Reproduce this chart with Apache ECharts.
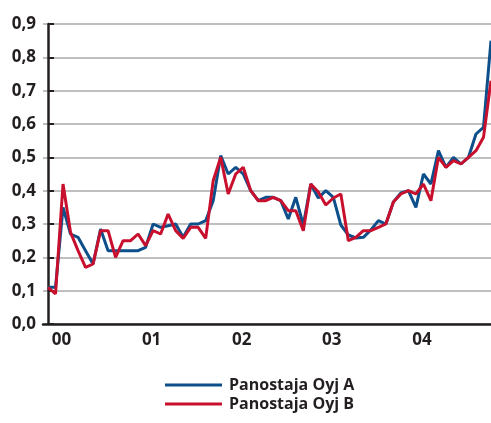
<!DOCTYPE html>
<html>
<head>
<meta charset="utf-8">
<script src="https://cdn.jsdelivr.net/npm/echarts@6/dist/echarts.min.js"></script>
<style>html,body{margin:0;padding:0;background:#fff}#c{width:491px;height:423px}</style>
</head>
<body>
<div id="c"></div>
<script>
// monthly observations, index 0..59
const seriesNames = ['Panostaja Oyj A', 'Panostaja Oyj B'];
const valuesA = [0.11,0.11,0.35,0.27,0.26,0.22,0.18,0.285,0.22,0.22,
  0.22,0.22,0.22,0.23,0.30,0.29,0.295,0.30,0.26,0.30,
  0.30,0.31,0.37,0.505,0.45,0.47,0.45,0.40,0.37,0.38,
  0.38,0.37,0.315,0.38,0.297,0.42,0.378,0.40,0.38,0.297,
  0.267,0.258,0.26,0.282,0.31,0.30,0.366,0.393,0.40,0.35,
  0.45,0.42,0.52,0.47,0.50,0.48,0.50,0.57,0.59,0.85];
const valuesB = [0.11,0.09,0.42,0.275,0.22,0.17,0.18,0.28,0.28,0.20,
  0.25,0.25,0.27,0.235,0.28,0.27,0.33,0.28,0.257,0.29,
  0.29,0.257,0.43,0.50,0.39,0.45,0.47,0.40,0.37,0.37,
  0.38,0.37,0.34,0.34,0.28,0.42,0.396,0.357,0.378,0.39,
  0.25,0.26,0.28,0.28,0.29,0.30,0.366,0.39,0.40,0.39,
  0.42,0.37,0.50,0.47,0.49,0.48,0.50,0.52,0.56,0.73];
const yearLabels = ['00','01','02','03','04'];

const labelOffset = 1.8;
const labelPos = yearLabels.map((_, k) => labelOffset + 12 * k);
const toPairs = arr => arr.map((v, i) => [i, v]);

const chart = echarts.init(document.getElementById('c'));
const font = '"Open Sans", "Noto Sans", sans-serif';
chart.setOption({
  animation: false,
  grid: { left: 43, right: 0, top: 24, bottom: 99, containLabel: false },
  xAxis: {
    type: 'value', min: -0.667, max: 59,
    axisLine: { show: true, lineStyle: { color: '#231f20', width: 2.5 } },
    axisTick: { show: false },
    splitLine: { show: false },
    axisLabel: {
      customValues: labelPos,
      formatter: v => { const k = labelPos.findIndex(p => Math.abs(p - v) < 0.01); return k >= 0 ? yearLabels[k] : ''; },
      color: '#231f20', fontSize: 17, fontWeight: 'bold', fontFamily: font, margin: 8
    }
  },
  yAxis: {
    type: 'value', min: 0, max: 0.9, interval: 0.1,
    axisLine: { show: true, lineStyle: { color: '#231f20', width: 2.5 } },
    axisTick: { show: true, inside: true, length: 6, lineStyle: { color: '#231f20', width: 2 } },
    splitLine: { show: true, lineStyle: { color: '#aaaaaa', width: 1.5 } },
    axisLabel: {
      formatter: v => v.toFixed(1).replace('.', ','),
      color: '#231f20', fontSize: 17, fontWeight: 'bold', fontFamily: font, margin: 7
    }
  },
  legend: {
    orient: 'vertical', left: 160, top: 372,
    icon: 'rect', itemWidth: 57, itemHeight: 3, itemGap: 3,
    textStyle: { color: '#231f20', fontSize: 16, fontWeight: 'bold', fontFamily: font, padding: [0, 0, 0, 2] },
    data: seriesNames
  },
  series: [
    { name: seriesNames[0], type: 'line', data: toPairs(valuesA), symbol: 'none',
      lineStyle: { color: '#0d4f8b', width: 3 }, itemStyle: { color: '#0d4f8b' } },
    { name: seriesNames[1], type: 'line', data: toPairs(valuesB), symbol: 'none',
      lineStyle: { color: '#c8102e', width: 3 }, itemStyle: { color: '#c8102e' } }
  ]
});
</script>
</body>
</html>
